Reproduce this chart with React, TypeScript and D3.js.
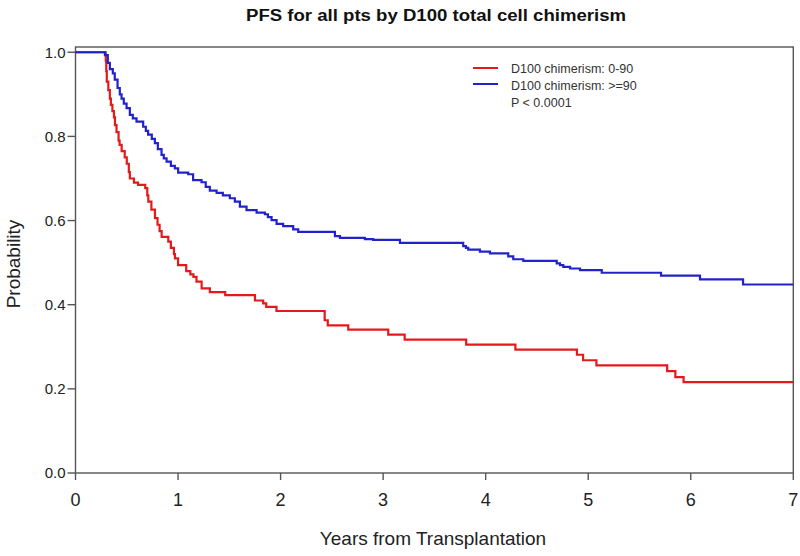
import React from "react";
import * as d3 from "d3";

const redTimes = [0, 0.295, 0.30, 0.305, 0.32, 0.335, 0.345, 0.36, 0.375, 0.385, 0.40, 0.42, 0.43, 0.45, 0.48, 0.50, 0.52, 0.53, 0.57, 0.61, 0.68, 0.70, 0.71, 0.74, 0.775, 0.80, 0.82, 0.84, 0.905, 0.93, 0.96, 0.97, 1.0, 1.08, 1.12, 1.15, 1.18, 1.23, 1.31, 1.46, 1.75, 1.83, 1.86, 1.96, 2.43, 2.46, 2.66, 3.05, 3.21, 3.81, 4.29, 4.89, 4.95, 5.08, 5.77, 5.85, 5.93, 7.0];
const redSurv = [1.0, 0.98, 0.955, 0.93, 0.91, 0.89, 0.875, 0.86, 0.845, 0.827, 0.81, 0.79, 0.78, 0.765, 0.75, 0.735, 0.715, 0.70, 0.69, 0.685, 0.677, 0.66, 0.645, 0.626, 0.606, 0.59, 0.575, 0.561, 0.55, 0.535, 0.52, 0.51, 0.494, 0.48, 0.472, 0.466, 0.455, 0.439, 0.43, 0.423, 0.41, 0.403, 0.395, 0.385, 0.363, 0.351, 0.341, 0.329, 0.317, 0.305, 0.293, 0.281, 0.268, 0.256, 0.242, 0.228, 0.216, 0.216];

const blueTimes = [0, 0.287, 0.315, 0.335, 0.364, 0.383, 0.41, 0.432, 0.449, 0.471, 0.498, 0.53, 0.559, 0.595, 0.66, 0.686, 0.708, 0.744, 0.774, 0.803, 0.839, 0.861, 0.888, 0.93, 0.969, 1.001, 1.099, 1.147, 1.229, 1.27, 1.31, 1.376, 1.437, 1.505, 1.554, 1.603, 1.668, 1.766, 1.847, 1.876, 1.912, 1.961, 2.025, 2.123, 2.172, 2.53, 2.579, 2.822, 2.903, 3.164, 3.781, 3.808, 3.83, 3.944, 4.042, 4.22, 4.269, 4.367, 4.693, 4.725, 4.757, 4.823, 4.92, 5.132, 5.71, 6.09, 6.51, 7.0];
const blueSurv = [1.0, 0.993, 0.975, 0.96, 0.95, 0.935, 0.915, 0.90, 0.89, 0.878, 0.867, 0.851, 0.843, 0.835, 0.823, 0.813, 0.804, 0.794, 0.784, 0.77, 0.756, 0.748, 0.74, 0.73, 0.724, 0.714, 0.71, 0.696, 0.691, 0.68, 0.671, 0.666, 0.66, 0.653, 0.645, 0.633, 0.625, 0.619, 0.615, 0.608, 0.601, 0.592, 0.587, 0.579, 0.573, 0.563, 0.559, 0.556, 0.554, 0.547, 0.539, 0.535, 0.531, 0.526, 0.522, 0.515, 0.508, 0.504, 0.498, 0.494, 0.49, 0.486, 0.482, 0.476, 0.469, 0.46, 0.448, 0.448];

const xTicks = [0, 1, 2, 3, 4, 5, 6, 7];
const yTicks = [0, 0.2, 0.4, 0.6, 0.8, 1.0];

const title = "PFS for all pts by D100 total cell chimerism";
const xTitle = "Years from Transplantation";
const yTitle = "Probability";
const legendLabels = ["D100 chimerism: 0-90", "D100 chimerism: >=90"];
const pText = "P < 0.0001";

const W = 800;
const H = 556;

export default function App() {
  const x = d3.scaleLinear().domain([0, 7]).range([75.5, 793.3]);
  const y = d3.scaleLinear().domain([0, 1.0125]).range([473, 47]);
  const line = d3
    .line<[number, number]>()
    .x((d) => x(d[0]))
    .y((d) => y(d[1]))
    .curve(d3.curveStepAfter);

  const redPts: [number, number][] = redTimes.map((t, i) => [t, redSurv[i]]);
  const bluePts: [number, number][] = blueTimes.map((t, i) => [t, blueSurv[i]]);

  const axisColor = "#555";
  const textColor = "#222";
  const font = "'Liberation Sans', Arial, sans-serif";
  const red = "#e31a1c";
  const blue = "#2222cc";

  return (
    <svg
      width={W}
      height={H}
      style={{ position: "absolute", left: 0, top: 0, background: "#fff" }}
      fontFamily={font}
    >
      <rect x={0} y={0} width={W} height={H} fill="#fff" />
      <text
        x={436}
        y={21}
        textAnchor="middle"
        fontWeight="bold"
        fontSize={16}
        textLength={380}
        lengthAdjust="spacingAndGlyphs"
        fill="#111"
      >
        {title}
      </text>

      {/* box */}
      <rect
        x={x(0)}
        y={y(1.0125)}
        width={x(7) - x(0)}
        height={y(0) - y(1.0125)}
        fill="none"
        stroke={axisColor}
        strokeWidth={1.4}
      />

      {/* y ticks */}
      {yTicks.map((t) => (
        <g key={"y" + t}>
          <line x1={x(0) - 8} x2={x(0)} y1={y(t)} y2={y(t)} stroke={axisColor} strokeWidth={1.4} />
          <text
            x={x(0) - 10}
            y={y(t)}
            dy="0.35em"
            textAnchor="end"
            fontSize={15}
            fill={textColor}
          >
            {t.toFixed(1)}
          </text>
        </g>
      ))}

      {/* x ticks */}
      {xTicks.map((t) => (
        <g key={"x" + t}>
          <line x1={x(t)} x2={x(t)} y1={y(0)} y2={y(0) + 7} stroke={axisColor} strokeWidth={1.4} />
          <text x={x(t)} y={506} textAnchor="middle" fontSize={18} fill={textColor}>
            {t}
          </text>
        </g>
      ))}

      <text x={433} y={545} textAnchor="middle" fontSize={19} fill={textColor}>
        {xTitle}
      </text>
      <text
        transform={`translate(20,264) rotate(-90)`}
        textAnchor="middle"
        fontSize={19}
        fill={textColor}
      >
        {yTitle}
      </text>

      {/* curves */}
      <path d={line(redPts) || ""} fill="none" stroke={red} strokeWidth={2.2} />
      <path d={line(bluePts) || ""} fill="none" stroke={blue} strokeWidth={2.2} />

      {/* legend */}
      <line x1={473} x2={498} y1={68} y2={68} stroke={red} strokeWidth={2} />
      <line x1={473} x2={498} y1={84} y2={84} stroke={blue} strokeWidth={2} />
      <text x={511} y={73} fontSize={12.5} fill="#333">
        {legendLabels[0]}
      </text>
      <text x={511} y={89.5} fontSize={12.5} fill="#333">
        {legendLabels[1]}
      </text>
      <text x={511} y={107} fontSize={12.5} fill="#333">
        {pText}
      </text>
    </svg>
  );
}
